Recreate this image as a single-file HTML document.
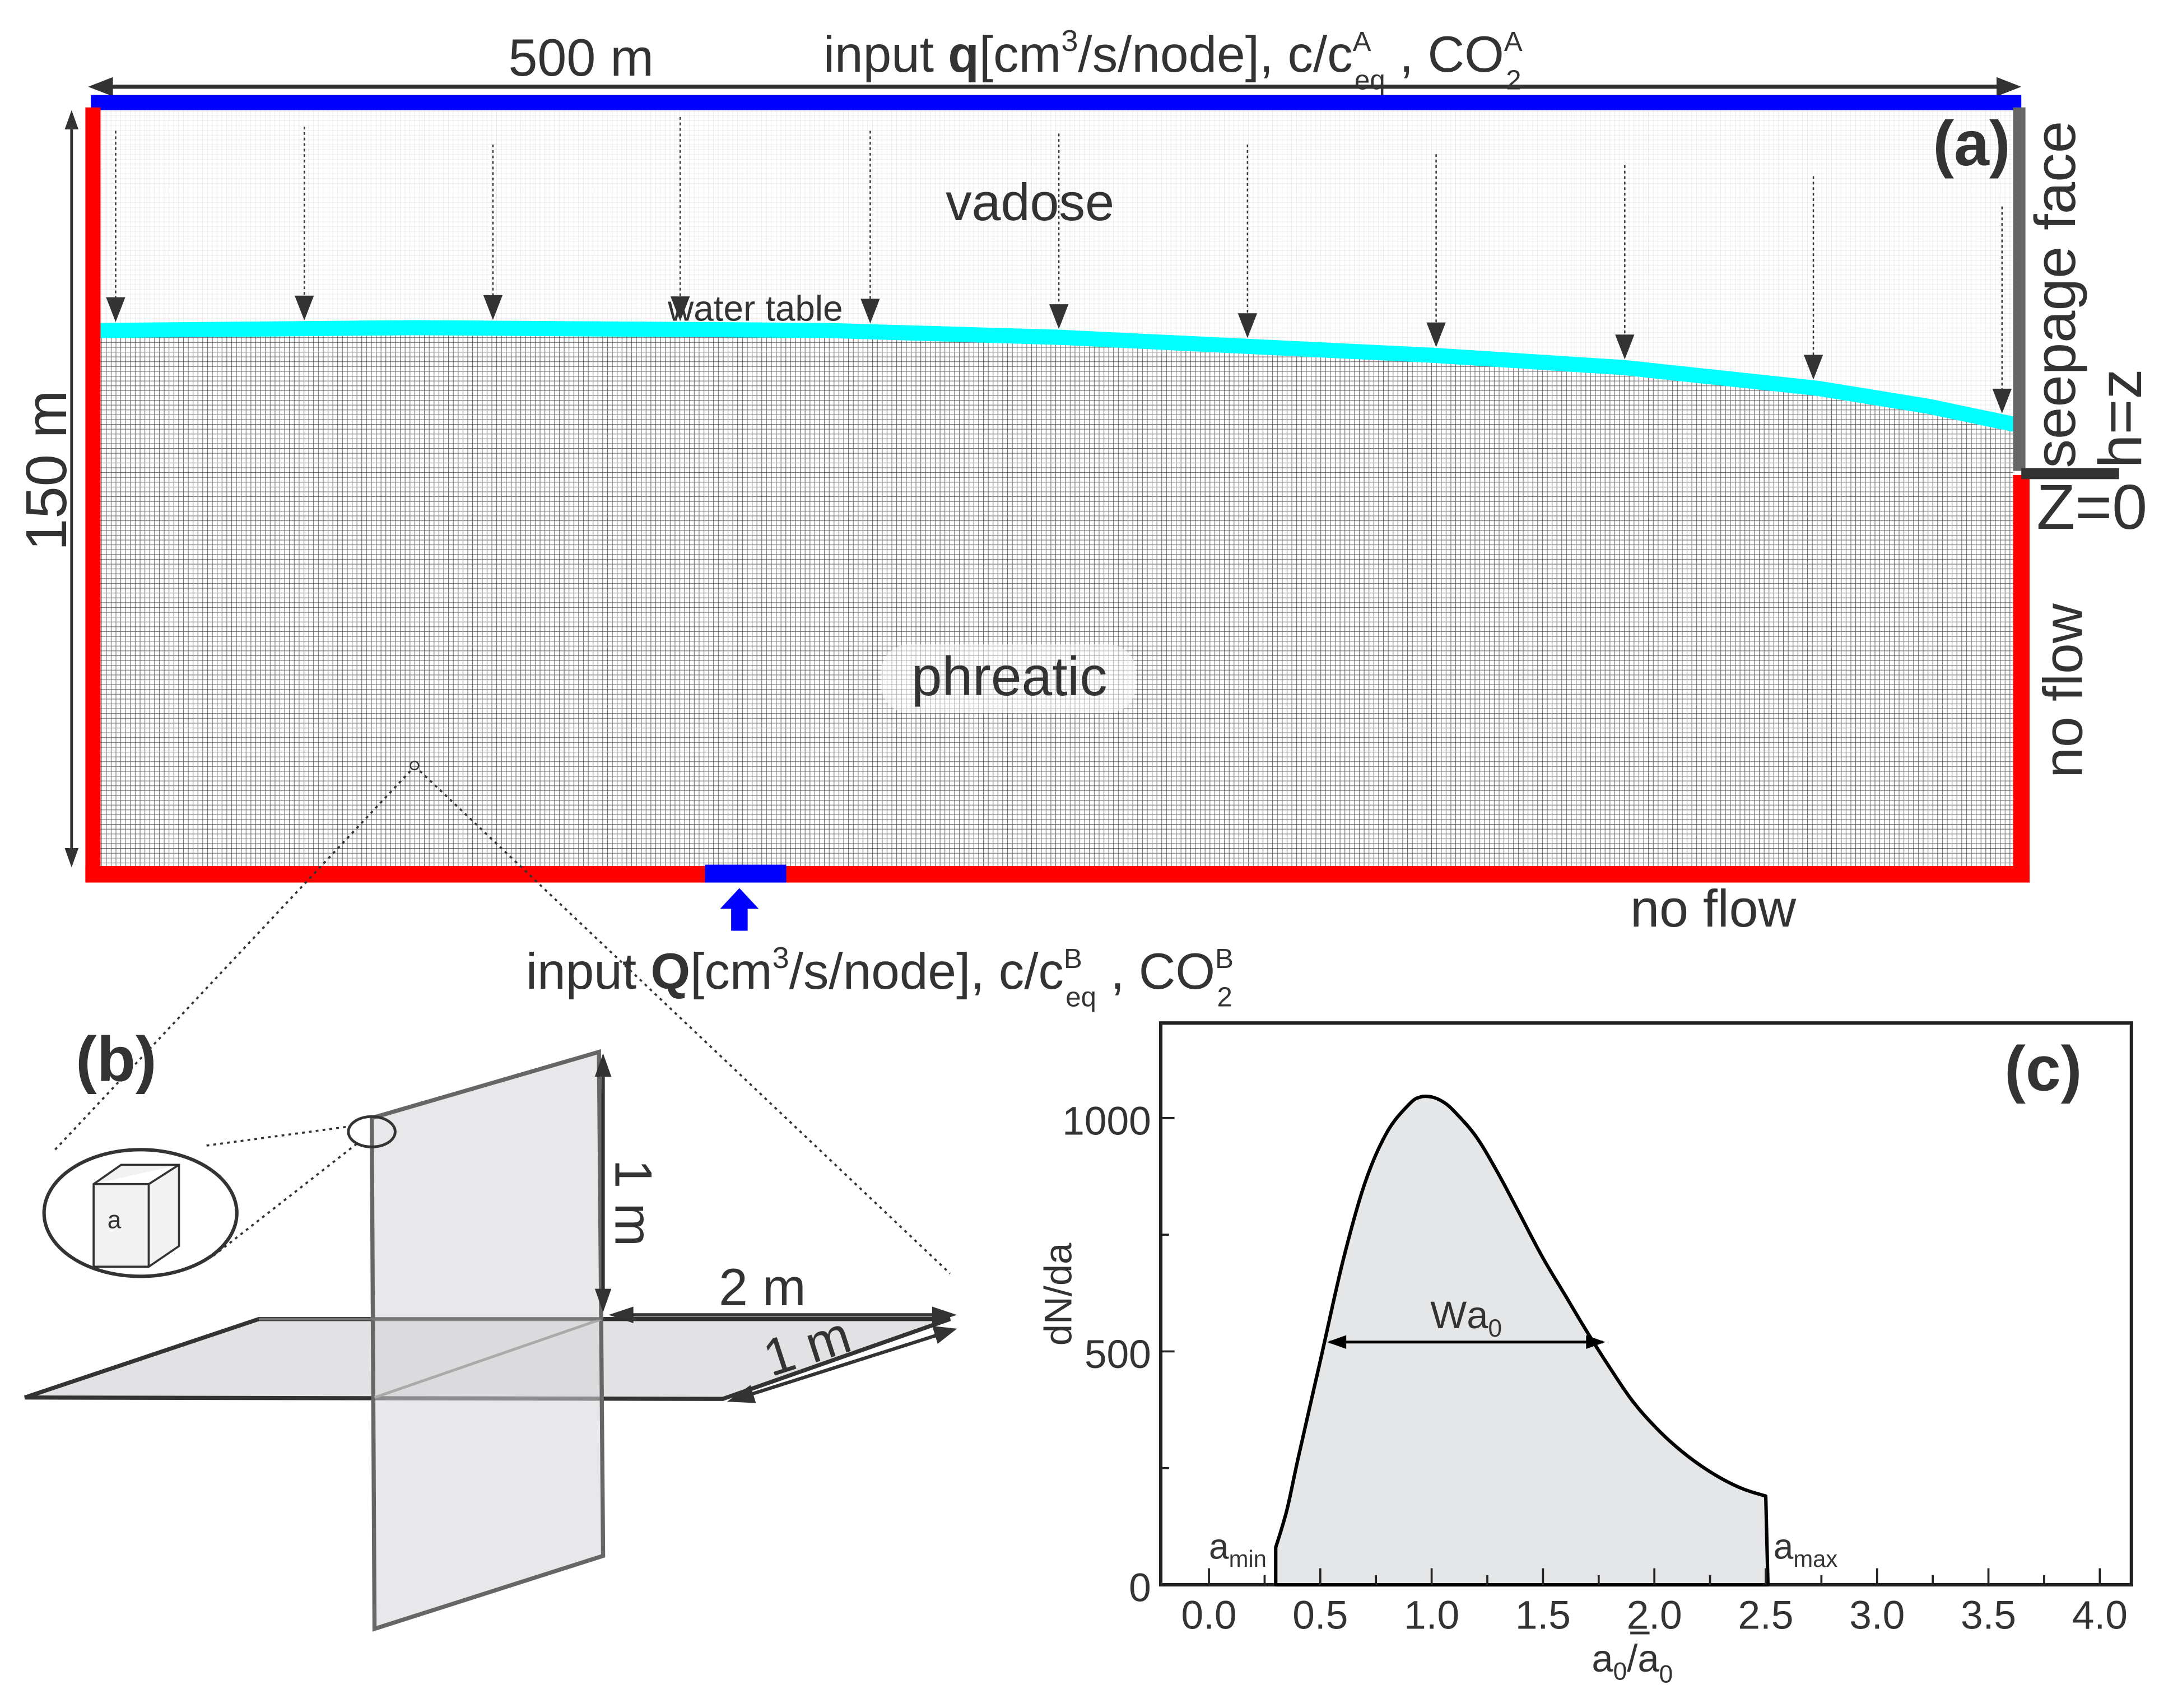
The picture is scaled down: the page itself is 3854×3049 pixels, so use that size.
<!DOCTYPE html>
<html><head><meta charset="utf-8"><style>
html,body{margin:0;padding:0;background:#fff}
svg{display:block}
text{font-family:"Liberation Sans",sans-serif;fill:#333}
</style></head><body>
<svg id="fig" width="3854" height="3049" viewBox="0 0 1568 1240.5" preserveAspectRatio="none" xmlns="http://www.w3.org/2000/svg">
<defs>
<pattern id="gridP" width="3.5" height="3.5" patternUnits="userSpaceOnUse"><rect width="3.5" height="3.5" fill="#fff"/><path d="M0 0H3.5M0 0V3.5" stroke="#6a6a6a" stroke-width="0.9"/></pattern>
<pattern id="gridV" width="3.5" height="3.5" patternUnits="userSpaceOnUse"><rect width="3.5" height="3.5" fill="#fff"/><path d="M0 0H3.5M0 0V3.5" stroke="#e0e0e0" stroke-width="0.5"/></pattern>
</defs>

<g>
<rect x="72" y="80" width="1392" height="550" fill="url(#gridV)"/>
<path d="M72,240 L300,238 L600,240 L770,245 L1040,258 L1180,267 L1320,282 L1400,295 L1462,308 L1462,630 L72,630 Z" fill="url(#gridP)"/>
<path d="M72,240 L300,238 L600,240 L770,245 L1040,258 L1180,267 L1320,282 L1400,295 L1462,308" fill="none" stroke="#00ffff" stroke-width="11" stroke-linecap="round"/>
<g id="infil"></g>
<line x1="70" y1="63" x2="1462" y2="63" stroke="#333" stroke-width="3"/>
<path d="M82,56 L64,63 L82,70z M1450,56 L1468,63 L1450,70z" fill="#333"/>
<rect x="66" y="69" width="1402" height="11" fill="#0000ff"/>
<rect x="62" y="78" width="11" height="562" fill="#ff0000"/>
<rect x="62" y="629" width="1412" height="12" fill="#ff0000"/>
<rect x="1462" y="345" width="12" height="296" fill="#ff0000"/>
<rect x="1462" y="78" width="9" height="264" fill="#666"/>
<rect x="1468" y="340" width="71" height="8" fill="#333"/>
<rect x="512" y="628" width="59" height="13" fill="#0000ff"/>
<path d="M537,645 L551,660 L543,660 L543,676 L531,676 L531,660 L523,660z" fill="#0000ff"/>
<line x1="52" y1="84" x2="52" y2="626" stroke="#333" stroke-width="2"/>
<path d="M47,94 L52,80 L57,94z M47,616 L52,630 L57,616z" fill="#333"/>
<text x="422" y="55" font-size="38" text-anchor="middle">500 m</text>
<text x="598" y="52" font-size="37">input <tspan font-weight="bold">q</tspan>[cm<tspan font-size="22" dy="-15">3</tspan><tspan dy="15">/s/node], c/c</tspan><tspan font-size="20" dy="-15">A</tspan><tspan font-size="20" dx="-12" dy="28">eq</tspan><tspan dy="-13"> , CO</tspan><tspan font-size="20" dy="-15">A</tspan><tspan font-size="20" dx="-12" dy="28">2</tspan></text>
<text x="382" y="718" font-size="37">input <tspan font-weight="bold">Q</tspan>[cm<tspan font-size="22" dy="-15">3</tspan><tspan dy="15">/s/node], c/c</tspan><tspan font-size="20" dy="-15">B</tspan><tspan font-size="20" dx="-12" dy="28">eq</tspan><tspan dy="-13"> , CO</tspan><tspan font-size="20" dy="-15">B</tspan><tspan font-size="20" dx="-12" dy="28">2</tspan></text>
<text x="748" y="160" font-size="38" text-anchor="middle">vadose</text>
<text x="485" y="233" font-size="26">water table</text>
<rect x="640" y="468" width="185" height="50" rx="20" fill="#fff" opacity="0.5"/>
<text x="733" y="505" font-size="40" text-anchor="middle">phreatic</text>
<text x="1460" y="120" font-size="46" font-weight="bold" text-anchor="end">(a)</text>
<text x="1184" y="673" font-size="38">no flow</text>
<text transform="translate(1507,340) rotate(-90)" font-size="42">seepage face</text>
<text transform="translate(1555,340) rotate(-90)" font-size="44">h=z</text>
<text x="1479" y="384" font-size="46">Z=0</text>
<text transform="translate(1512,565) rotate(-90)" font-size="40">no flow</text>
<text transform="translate(48,400) rotate(-90)" font-size="42">150 m</text>
<circle cx="301" cy="556" r="3" fill="none" stroke="#333" stroke-width="1"/>
<path d="M298,560 L40,835 M305,560 L690,925" stroke="#333" stroke-width="1.5" stroke-dasharray="2,3" fill="none"/>
</g>

<g>
<text x="55" y="785" font-size="46" font-weight="bold">(b)</text>
<path d="M18,1015 L188,958 L690,958 L525,1016 Z" fill="#e2e2e4" stroke="#333" stroke-width="3"/>
<path d="M270,812 L435,764 L438,1130 L272,1183 Z" fill="#d6d6d8" fill-opacity="0.55" stroke="#666" stroke-width="3"/>
<path d="M272,1015 L437,958" stroke="#aaa" stroke-width="2"/>
<path d="M188,958 L437,958" stroke="#777" stroke-width="2"/>
<line x1="438" y1="772" x2="438" y2="944" stroke="#333" stroke-width="2.5"/>
<path d="M432,782 L438,765 L444,782z M432,936 L438,953 L444,936z" fill="#333"/>
<text transform="translate(447,842) rotate(90)" font-size="38">1 m</text>
<line x1="452" y1="955" x2="685" y2="955" stroke="#333" stroke-width="2.5"/>
<path d="M460,949 L442,955 L460,961z M677,949 L695,955 L677,961z" fill="#333"/>
<text x="522" y="948" font-size="38">2 m</text>
<line x1="538" y1="1015" x2="686" y2="968" stroke="#333" stroke-width="2.5"/>
<path d="M545,1006 L528,1018 L549,1019z M677,963 L695,965 L681,976z" fill="#333"/>
<text transform="translate(560,1000) rotate(-18)" font-size="38">1 m</text>
<ellipse cx="270" cy="822" rx="17" ry="11" fill="none" stroke="#333" stroke-width="2"/>
<ellipse cx="102" cy="881" rx="70" ry="46" fill="#fff" stroke="#333" stroke-width="2.5"/>
<path d="M150,832 L255,818 M155,912 L260,830" stroke="#333" stroke-width="1.5" stroke-dasharray="2,3"/>
<path d="M68,860 L88,846 L130,846 L130,905 L108,920 L68,920 Z M68,860 L108,860 L130,846 M108,860 L108,920" fill="#f2f2f2" stroke="#333" stroke-width="1.5"/>
<text x="78" y="892" font-size="18">a</text>
</g>

<g id="chartC">
<rect x="843" y="743" width="705" height="408" fill="none" stroke="#222" stroke-width="2.5"/>
<path id="area" fill="#e5e6e8" stroke="#000" stroke-width="2.5" stroke-linejoin="round"/>
<g id="axes"></g>
<text x="1512" y="792" font-size="46" font-weight="bold" text-anchor="end">(c)</text>
<text x="878" y="1132" font-size="26">a<tspan font-size="17" dy="6">min</tspan></text>
<text x="1288" y="1132" font-size="26">a<tspan font-size="17" dy="6">max</tspan></text>
<text transform="translate(778,940) rotate(-90)" font-size="28" text-anchor="middle">dN/da</text>
<text x="1156" y="1214" font-size="28">a<tspan font-size="18" dy="6">0</tspan><tspan dy="-6">/a</tspan><tspan font-size="18" dy="8">0</tspan></text>
<line x1="1184" y1="1186" x2="1198" y2="1186" stroke="#333" stroke-width="2"/>
<line id="wArrow" stroke="#000" stroke-width="2"/>
<text id="wLabel" font-size="28" text-anchor="middle">W<tspan>a</tspan><tspan font-size="18" dy="6">0</tspan></text>
</g>
</svg>
<script>
var curveX=[0.3,0.3,0.35,0.4,0.5,0.6,0.7,0.8,0.9,0.95,1.0,1.05,1.1,1.2,1.3,1.4,1.5,1.6,1.7,1.8,1.9,2.0,2.1,2.2,2.3,2.4,2.5,2.51];
var curveY=[0,80,160,270,480,690,860,970,1030,1045,1045,1035,1015,960,880,790,700,620,540,465,395,340,295,258,228,205,190,0];
var xTicks=["0.0","0.5","1.0","1.5","2.0","2.5","3.0","3.5","4.0"];
var yTicks=["0","500","1000"];
var widthRange=[0.53,1.78];
var widthLevel=[520];
var infilX=[84,221,358,494,632,769,906,1043,1180,1317,1454];
var infilTop=[95,92,105,85,95,97,105,112,120,128,150];
var wtX=[72,300,600,770,1040,1180,1320,1400,1462];
var wtY=[240,238,240,245,258,267,282,295,308];

var NS="http://www.w3.org/2000/svg";
function sx(v){return 878+v*161.75;}
function sy(v){return 1151-v*0.339;}
function wtAt(x){for(var i=0;i<wtX.length-1;i++){if(x<=wtX[i+1]){var t=(x-wtX[i])/(wtX[i+1]-wtX[i]);return wtY[i]+t*(wtY[i+1]-wtY[i]);}}return wtY[wtY.length-1];}
var inf=document.getElementById('infil');
for(var i=0;i<infilX.length;i++){
 var y2=wtAt(infilX[i])-8;
 var l=document.createElementNS(NS,'line');
 
 
 l.setAttribute('x1',infilX[i]);l.setAttribute('x2',infilX[i]);l.setAttribute('y1',infilTop[i]);l.setAttribute('y2',y2-10);
 l.setAttribute('stroke','#333');l.setAttribute('stroke-width','1');l.setAttribute('stroke-dasharray','2,2');
 inf.appendChild(l);
 var h=document.createElementNS(NS,'path');
 
 
 var x=infilX[i];
 h.setAttribute('d','M'+(x-7)+','+(y2-16)+' L'+(x+7)+','+(y2-16)+' L'+x+','+(y2+2)+'z');
 h.setAttribute('fill','#333');
 inf.appendChild(h);
}
var P=[];for(var i=0;i<curveX.length;i++){P.push([sx(curveX[i]),sy(curveY[i])]);}
var d='M'+P[0][0].toFixed(1)+','+P[0][1].toFixed(1)+' L'+P[1][0].toFixed(1)+','+P[1][1].toFixed(1);
for(var i=1;i<P.length-2;i++){
 var p0=P[Math.max(1,i-1)],p1=P[i],p2=P[i+1],p3=P[Math.min(P.length-2,i+2)];
 var c1x=p1[0]+(p2[0]-p0[0])/6,c1y=p1[1]+(p2[1]-p0[1])/6,c2x=p2[0]-(p3[0]-p1[0])/6,c2y=p2[1]-(p3[1]-p1[1])/6;
 d+=' C'+c1x.toFixed(1)+','+c1y.toFixed(1)+' '+c2x.toFixed(1)+','+c2y.toFixed(1)+' '+p2[0].toFixed(1)+','+p2[1].toFixed(1);
}
d+=' L'+P[P.length-1][0].toFixed(1)+','+P[P.length-1][1].toFixed(1)+' Z';
document.getElementById('area').setAttribute('d',d);
var ax=document.getElementById('axes');
for(var i=0;i<xTicks.length;i++){
 var v=parseFloat(xTicks[i]);
 var t=document.createElementNS(NS,'text');
 
 
 t.setAttribute('x',sx(v));t.setAttribute('y',1183);t.setAttribute('font-size','29');t.setAttribute('text-anchor','middle');
 t.textContent=xTicks[i];ax.appendChild(t);
}
for(var v=0;v<=4.0;v+=0.25){
 var major=Math.abs(v*2-Math.round(v*2))<1e-6;
 var l=document.createElementNS(NS,'line');
 
 
 l.setAttribute('x1',sx(v));l.setAttribute('x2',sx(v));l.setAttribute('y1',1151);l.setAttribute('y2',1151-(major?12:7));
 l.setAttribute('stroke','#222');l.setAttribute('stroke-width','1.5');ax.appendChild(l);
}
for(var i=0;i<yTicks.length;i++){
 var v=parseFloat(yTicks[i]);
 var t=document.createElementNS(NS,'text');
 
 
 t.setAttribute('x',836);t.setAttribute('y',sy(v)+12);t.setAttribute('font-size','29');t.setAttribute('text-anchor','end');
 t.textContent=yTicks[i];ax.appendChild(t);
}
for(var v=250;v<=1000;v+=250){
 var l=document.createElementNS(NS,'line');
 
 
 l.setAttribute('x1',843);l.setAttribute('x2',843+(v%500===0?10:6));l.setAttribute('y1',sy(v));l.setAttribute('y2',sy(v));
 l.setAttribute('stroke','#222');l.setAttribute('stroke-width','1.5');ax.appendChild(l);
}
var wa=document.getElementById('wArrow');
wa.setAttribute('x1',sx(widthRange[0])+2);wa.setAttribute('x2',sx(widthRange[1])-2);
wa.setAttribute('y1',sy(widthLevel[0]));wa.setAttribute('y2',sy(widthLevel[0]));
var hp=document.createElementNS(NS,'path');


var a=sx(widthRange[0]),b=sx(widthRange[1]),yy=sy(widthLevel[0]);
hp.setAttribute('d','M'+a+','+yy+' L'+(a+14)+','+(yy-5)+' L'+(a+14)+','+(yy+5)+'z M'+b+','+yy+' L'+(b-14)+','+(yy-5)+' L'+(b-14)+','+(yy+5)+'z');
hp.setAttribute('fill','#000');
document.getElementById('chartC').appendChild(hp);
var wl=document.getElementById('wLabel');
wl.setAttribute('x',(a+b)/2);wl.setAttribute('y',yy-10);
</script>
</body></html>
